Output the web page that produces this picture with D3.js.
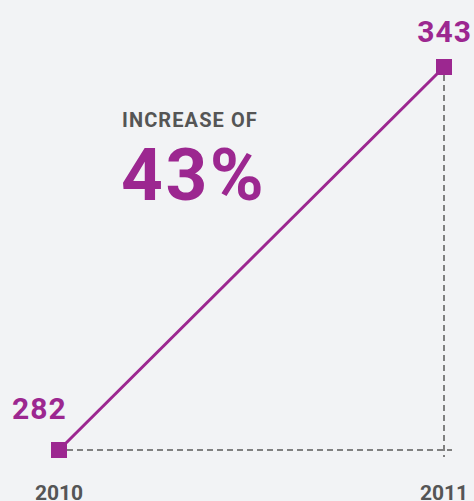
<!DOCTYPE html>
<html>
<head>
<meta charset="utf-8">
<script src="https://cdn.jsdelivr.net/npm/d3@7"></script>
<style>
  html, body { margin: 0; padding: 0; background: #f2f3f5; }
  text { font-family: Roboto, "Noto Sans", sans-serif; font-weight: 700; }
</style>
</head>
<body>
<script>
const w = 474;
const h = 501;
const purple = "#9c2790";

const years = ["2010", "2011"];
const values = [282, 343];
const headline = "INCREASE OF";
const change = "43%";

const dataset = years.map((y, i) => ({year: y, value: values[i]}));

const xScale = d3.scalePoint()
                 .domain(years)
                 .range([59, 444]);

const yScale = d3.scaleLinear()
                 .domain([d3.min(values), d3.max(values)])
                 .range([450, 67]);

const svg = d3.select("body")
              .append("svg")
              .attr("width", w)
              .attr("height", h);

svg.append("rect")
   .attr("width", w)
   .attr("height", h)
   .attr("fill", "#f2f3f5");

const first = dataset[0];
const last = dataset[dataset.length - 1];

// dashed guides
svg.append("line")
   .attr("x1", xScale(first.year) + 8)
   .attr("x2", xScale(last.year) + 8)
   .attr("y1", yScale(first.value))
   .attr("y2", yScale(first.value))
   .attr("stroke", "#808080")
   .attr("stroke-width", 2)
   .attr("stroke-dasharray", "6,4");

svg.append("line")
   .attr("x1", xScale(last.year))
   .attr("x2", xScale(last.year))
   .attr("y1", yScale(last.value) + 8)
   .attr("y2", yScale(first.value) + 7)
   .attr("stroke", "#808080")
   .attr("stroke-width", 2)
   .attr("stroke-dasharray", "6,4");

const line = d3.line()
               .x(d => xScale(d.year))
               .y(d => yScale(d.value));

svg.append("path")
   .datum(dataset)
   .attr("d", line)
   .attr("fill", "none")
   .attr("stroke", purple)
   .attr("stroke-width", 3);

svg.selectAll("rect.dot")
   .data(dataset)
   .enter()
   .append("rect")
   .attr("class", "dot")
   .attr("x", d => xScale(d.year) - 8)
   .attr("y", d => yScale(d.value) - 8)
   .attr("width", 16)
   .attr("height", 16)
   .attr("fill", purple);

// value labels
svg.append("text")
   .attr("x", xScale(first.year) - 47)
   .attr("y", yScale(first.value) - 31)
   .attr("font-size", 30)
   .attr("letter-spacing", 1)
   .attr("fill", purple)
   .text(first.value);

svg.append("text")
   .attr("x", xScale(last.year) + 28)
   .attr("y", yScale(last.value) - 25)
   .attr("text-anchor", "end")
   .attr("font-size", 30)
   .attr("letter-spacing", 1)
   .attr("fill", purple)
   .text(last.value);

// year labels
svg.selectAll("text.year")
   .data(dataset)
   .enter()
   .append("text")
   .attr("class", "year")
   .attr("x", d => xScale(d.year))
   .attr("y", 500)
   .attr("text-anchor", "middle")
   .attr("font-size", 21)
   .attr("fill", "#555")
   .text(d => d.year);

// annotation
svg.append("text")
   .attr("x", 122)
   .attr("y", 127)
   .attr("font-size", 20)
   .attr("letter-spacing", 1.1)
   .attr("fill", "#555")
   .text(headline);

svg.append("text")
   .attr("x", 121)
   .attr("y", 200)
   .attr("font-size", 73)
   .attr("letter-spacing", 2.5)
   .attr("fill", purple)
   .text(change);
</script>
</body>
</html>
